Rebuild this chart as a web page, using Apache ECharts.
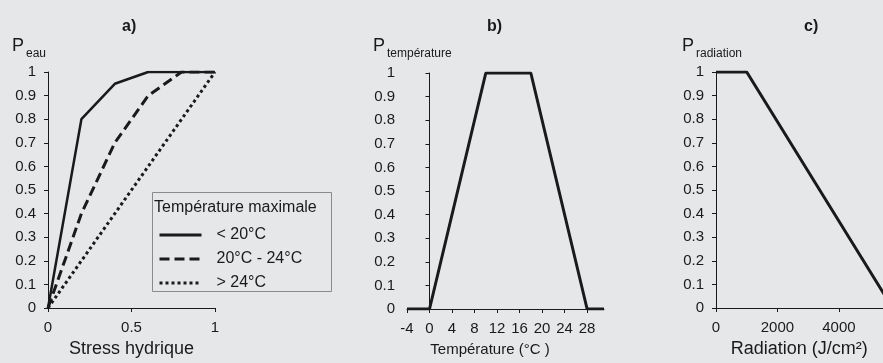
<!DOCTYPE html>
<html>
<head>
<meta charset="utf-8">
<script src="https://cdn.jsdelivr.net/npm/echarts@6/dist/echarts.min.js"></script>
<style>
  html, body { margin: 0; padding: 0; background: #e6e7e9; overflow: hidden; }
  #main { width: 920px; height: 363px; }
</style>
</head>
<body>
<div id="main"></div>
<script>
// a) water stress
var stressX = [0, 0.2, 0.4, 0.6, 0.8, 1];
var peauCold = [0, 0.8, 0.95, 1, 1, 1];
var peauMild = [0, 0.4, 0.7, 0.9, 1, 1];
var peauHot = [0, 0.2, 0.4, 0.6, 0.8, 1];
var seriesNames = ['< 20°C', '20°C - 24°C', '> 24°C'];

// b) temperature
var tempX = [-4, 0, 10, 18, 28, 31];
var pTemp = [0, 0, 1, 1, 0, 0];
var tempTicks = [-4, 0, 4, 8, 12, 16, 20, 24, 28];

// c) radiation
var radX = [0, 1000, 5750];
var pRad = [1, 1, 0];

var ink = '#1a1a1a';
var font = 'Liberation Sans, Arial, sans-serif';

function pairs(xs, ys) {
  return xs.map(function (x, i) { return [x, ys[i]]; });
}

function yAxis(idx) {
  return {
    type: 'value', gridIndex: idx, min: 0, max: 1, interval: 0.1,
    axisLine: { show: true, lineStyle: { color: ink, width: 1 } },
    axisTick: { show: true, length: 4, lineStyle: { color: ink } },
    axisLabel: { color: ink, fontSize: 15, fontFamily: font, margin: 12 },
    splitLine: { show: false }
  };
}

function xAxis(idx, min, max, interval, name, namePad, nameSize) {
  return {
    type: 'value', gridIndex: idx, min: min, max: max, interval: interval,
    axisLine: { onZero: false, lineStyle: { color: ink, width: 1 } },
    axisTick: { show: true, length: 4, lineStyle: { color: ink } },
    axisLabel: { color: ink, fontSize: 15, fontFamily: font, margin: 12,
      formatter: function (v) { return String(v); } },
    splitLine: { show: false },
    name: name, nameLocation: 'middle', nameGap: 32,
    nameTextStyle: { color: ink, fontSize: nameSize || 18, fontFamily: font, padding: namePad || 0 }
  };
}

function pLabel(x, sub, subX) {
  return [
    { type: 'text', left: x, top: 37, style: { text: 'P', fill: ink, font: '18px ' + font } },
    { type: 'text', left: subX, top: 48, style: { text: sub, fill: ink, font: '12px ' + font } }
  ];
}

var myChart = echarts.init(document.getElementById('main'));

var tempAxis = xAxis(1, -4, 31, 4, 'Température (°C )', [0, 31, 0, 0], 15);
tempAxis.nameGap = 33;
tempAxis.axisTick.customValues = tempTicks;
tempAxis.axisLabel.customValues = tempTicks;

var option = {
  backgroundColor: '#e6e7e9',
  animation: false,
  textStyle: { fontFamily: font },
  title: [
    { text: 'a)', left: 117, top: 14, textStyle: { fontSize: 16, fontWeight: 'bold', color: ink, fontFamily: font } },
    { text: 'b)', left: 482, top: 14, textStyle: { fontSize: 16, fontWeight: 'bold', color: ink, fontFamily: font } },
    { text: 'c)', left: 799, top: 14, textStyle: { fontSize: 16, fontWeight: 'bold', color: ink, fontFamily: font } }
  ],
  grid: [
    { left: 48, top: 72, width: 167, height: 236 },
    { left: 407, top: 73, width: 197, height: 236 },
    { left: 716, top: 72, width: 200, height: 237 }
  ],
  xAxis: [
    xAxis(0, 0, 1, 0.5, 'Stress hydrique'),
    tempAxis,
    xAxis(2, 0, 6000, 2000, 'Radiation (J/cm²)', [0, 18, 0, 0])
  ],
  yAxis: [yAxis(0), yAxis(1), yAxis(2)],
  legend: {
    data: seriesNames,
    orient: 'vertical',
    left: 158, top: 227, padding: 0,
    itemWidth: 42, itemHeight: 14, itemGap: 8,
    itemStyle: { color: 'rgba(0,0,0,0)', borderColor: 'rgba(0,0,0,0)', borderWidth: 0 },
    lineStyle: { width: 3 },
    textStyle: { color: ink, fontSize: 16, fontFamily: font, padding: [0, 0, 0, 10], lineHeight: 16 }
  },
  graphic: [
    { type: 'rect', left: 152, top: 192, shape: { width: 179, height: 99 },
      style: { fill: 'rgba(0,0,0,0)', stroke: '#8a8a8a', lineWidth: 1 } },
    { type: 'text', left: 154, top: 200, style: { text: 'Température maximale', fill: ink, font: '16px ' + font } }
  ].concat(pLabel(12, 'eau', 26), pLabel(373, 'température', 387), pLabel(682, 'radiation', 696)),
  series: [
    { name: seriesNames[0], type: 'line', xAxisIndex: 0, yAxisIndex: 0, symbol: 'none',
      data: pairs(stressX, peauCold), lineStyle: { color: ink, width: 2.5 }, itemStyle: { color: ink } },
    { name: seriesNames[1], type: 'line', xAxisIndex: 0, yAxisIndex: 0, symbol: 'none',
      data: pairs(stressX, peauMild), lineStyle: { color: ink, width: 3, type: [10, 5] }, itemStyle: { color: ink } },
    { name: seriesNames[2], type: 'line', xAxisIndex: 0, yAxisIndex: 0, symbol: 'none',
      data: pairs(stressX, peauHot), lineStyle: { color: ink, width: 3, type: [3, 3] }, itemStyle: { color: ink } },
    { type: 'line', xAxisIndex: 1, yAxisIndex: 1, symbol: 'none',
      data: pairs(tempX, pTemp), lineStyle: { color: ink, width: 3 } },
    { type: 'line', xAxisIndex: 2, yAxisIndex: 2, symbol: 'none',
      data: pairs(radX, pRad), lineStyle: { color: ink, width: 3 } }
  ]
};

myChart.setOption(option);
</script>
</body>
</html>
